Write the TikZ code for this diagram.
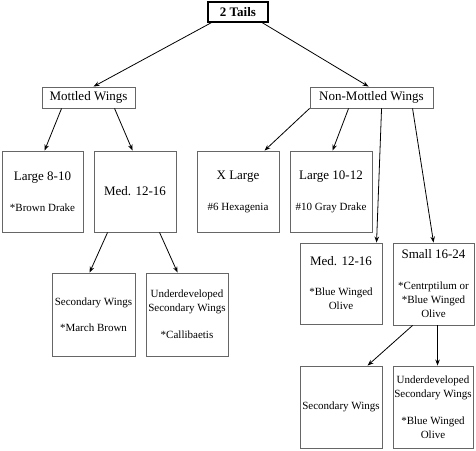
\documentclass[tikz,border=0pt]{standalone}
\usepackage{fontspec}
\setmainfont{Liberation Serif}
\usetikzlibrary{arrows.meta}
\begin{document}
\begin{tikzpicture}[x=1pt,y=-1pt,
  box/.style={draw=black!60, line width=0.9pt, inner sep=1pt, align=center,
    font=\fontsize{11}{14}\selectfont},
  big/.style={font=\fontsize{13}{15}\selectfont},
  arr/.style={-{Stealth[length=6pt,width=4.5pt]}, line width=0.8pt, black}]
\useasboundingbox (0,0) rectangle (476,450);
\newcommand{\bg}[1]{{\fontsize{13}{14}\selectfont #1}}
% top
\node[draw=black, line width=1.4pt, minimum width=60pt, minimum height=20pt, inner sep=0pt,
  font=\fontsize{13}{15}\selectfont\bfseries] (top) at (238,12) {2 Tails};
% level 1
\node[box, big, minimum width=93pt, minimum height=21pt] (mot) at (88.5,97.5) {Mottled Wings};
\node[box, big, minimum width=123pt, minimum height=21pt] (nm) at (371.5,97.5) {Non-Mottled Wings};
% level 2
\node[box, minimum width=81pt, minimum height=81pt] (l810) at (42.5,191.5)
  {\bg{Large 8-10}\\[17pt]*Brown Drake};
\node[box, big, minimum width=82pt, minimum height=81pt] (med1) at (135,191.5) {Med. 12-16};
\node[box, minimum width=82pt, minimum height=81pt] (xl) at (238,191.5)
  {\bg{X Large}\\[17pt]\#6 Hexagenia};
\node[box, minimum width=82pt, minimum height=81pt] (l1012) at (331,191.5)
  {\bg{Large 10-12}\\[17pt]\#10 Gray Drake};
% level 3
\node[box, minimum width=83pt, minimum height=83pt] (secL) at (93.5,314.5)
  {Secondary Wings\\[12pt]*March Brown};
\node[box, minimum width=82pt, minimum height=83pt] (undL) at (187,314.5)
  {Underdeveloped\\Secondary Wings\\[13pt]*Callibaetis};
\node[box, minimum width=82pt, minimum height=81pt] (med2) at (341,283.5)
  {\bg{Med. 12-16}\\[16pt]*Blue Winged\\Olive};
\node[box, minimum width=81pt, minimum height=82pt] (small) at (433.5,284)
  {\bg{Small 16-24}\\[17pt]*Centrptilum or\\*Blue Winged\\Olive};
% level 4
\node[box, minimum width=82pt, minimum height=82pt] (secR) at (341,407) {Secondary Wings};
\node[box, minimum width=80pt, minimum height=82pt] (undR) at (433,407)
  {Underdeveloped\\Secondary Wings\\[13pt]*Blue Winged\\Olive};
% arrows
\draw[arr] ([xshift=4pt]top.south west) -- ([xshift=52pt]mot.north west);
\draw[arr] ([xshift=55pt]top.south west) -- ([xshift=59pt]nm.north west);
\draw[arr] ([xshift=20pt]mot.south west) -- ([xshift=43pt]l810.north west);
\draw[arr] ([xshift=73pt]mot.south west) -- ([xshift=39pt]med1.north west);
\draw[arr] ([xshift=0pt]nm.south west) -- ([xshift=68pt]xl.north west);
\draw[arr] ([xshift=39pt]nm.south west) -- ([xshift=43pt]l1012.north west);
\draw[arr] ([xshift=72pt]nm.south west) -- ([xshift=77pt]med2.north west);
\draw[arr] ([xshift=103pt]nm.south west) -- ([xshift=41pt]small.north west);
\draw[arr] ([xshift=14pt]med1.south west) -- ([xshift=38pt]secL.north west);
\draw[arr] ([xshift=66pt]med1.south west) -- ([xshift=32pt]undL.north west);
\draw[arr] ([xshift=20pt]small.south west) -- ([xshift=68pt]secR.north west);
\draw[arr] ([xshift=45pt]small.south west) -- ([xshift=45pt]undR.north west);
\end{tikzpicture}
\end{document}
